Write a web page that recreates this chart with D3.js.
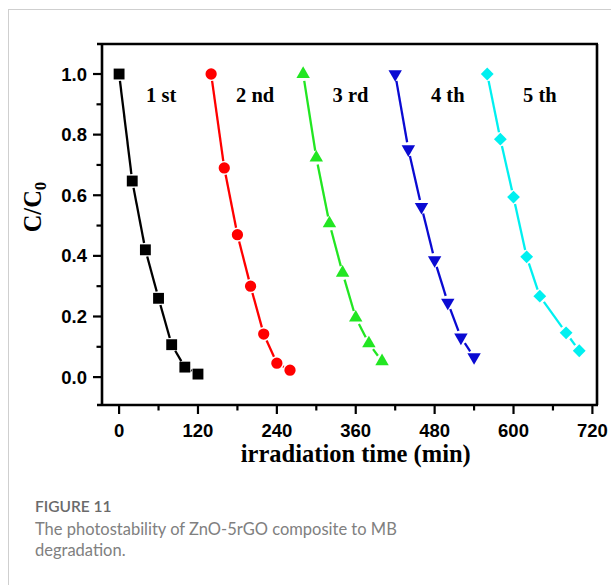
<!DOCTYPE html>
<html>
<head>
<meta charset="utf-8">
<script src="https://cdn.jsdelivr.net/npm/d3@7"></script>
<style>
  body { margin: 0; background: #fff; }
  svg { display: block; }
</style>
</head>
<body>
<script>
// irradiation time (min) per run
var time1 = [0, 20, 40, 60, 80, 100, 120];
var time2 = [140, 160, 180, 200, 220, 240, 260];
var time3 = [280, 300, 320, 340, 360, 380, 400];
var time4 = [420, 440, 460, 480, 500, 520, 540];
var time5 = [560, 580, 600, 620, 640, 680, 700];

// C/C0 per run
var ratio1 = [1.0, 0.647, 0.42, 0.26, 0.107, 0.033, 0.01];
var ratio2 = [1.0, 0.69, 0.47, 0.30, 0.142, 0.046, 0.023];
var ratio3 = [1.0, 0.724, 0.507, 0.344, 0.196, 0.111, 0.052];
var ratio4 = [1.0, 0.752, 0.562, 0.386, 0.246, 0.131, 0.066];
var ratio5 = [1.0, 0.785, 0.594, 0.397, 0.267, 0.146, 0.087];

var runNames = ["1 st", "2 nd", "3 rd", "4 th", "5 th"];
var xTicks = [0, 120, 240, 360, 480, 600, 720];
var xMinor = [60, 180, 300, 420, 540, 660];
var yTicks = [0.0, 0.2, 0.4, 0.6, 0.8, 1.0];
var yMinor = [0.1, 0.3, 0.5, 0.7, 0.9];

var colors = ["#000000", "#ff0000", "#22e622", "#0a0ad2", "#00f0f0"];
var times = [time1, time2, time3, time4, time5];
var ratios = [ratio1, ratio2, ratio3, ratio4, ratio5];

var W = 611, H = 585;
var svg = d3.select("body").append("svg")
    .attr("width", W)
    .attr("height", H);

// card outline
svg.append("rect")
    .attr("x", 8.5).attr("y", 9.5)
    .attr("width", 800).attr("height", 800)
    .attr("fill", "none")
    .attr("stroke", "#cfcfcf")
    .attr("stroke-width", 1);

var L = 102, R = 597, T = 44, B = 405;
var x = d3.scaleLinear().domain([-26, 727]).range([L, R]);
var y = d3.scaleLinear().domain([-0.092, 1.099]).range([B, T]);

var axisFont = "'Liberation Sans', Arial, sans-serif";
var serif = "'Liberation Serif', 'Times New Roman', serif";

// ticks
var ax = svg.append("g").attr("stroke", "#000").attr("stroke-width", 2.2);
ax.selectAll(".xt").data(xTicks).enter().append("line")
    .attr("x1", function(d){ return x(d); }).attr("x2", function(d){ return x(d); })
    .attr("y1", B).attr("y2", B + 9);
ax.selectAll(".xm").data(xMinor).enter().append("line")
    .attr("x1", function(d){ return x(d); }).attr("x2", function(d){ return x(d); })
    .attr("y1", B).attr("y2", B + 5.5);
ax.selectAll(".yt").data(yTicks).enter().append("line")
    .attr("y1", function(d){ return y(d); }).attr("y2", function(d){ return y(d); })
    .attr("x1", L).attr("x2", L - 9);
ax.selectAll(".ym").data(yMinor).enter().append("line")
    .attr("y1", function(d){ return y(d); }).attr("y2", function(d){ return y(d); })
    .attr("x1", L).attr("x2", L - 5.5);

// frame
var fr = svg.append("g").attr("stroke", "#000").attr("stroke-width", 2.6).attr("fill", "none");
fr.append("line").attr("x1", L - 5).attr("x2", R + 1).attr("y1", T).attr("y2", T);
fr.append("line").attr("x1", L - 5).attr("x2", R + 1).attr("y1", B).attr("y2", B);
fr.append("line").attr("x1", L).attr("x2", L).attr("y1", T).attr("y2", B);
fr.append("line").attr("x1", R).attr("x2", R).attr("y1", T).attr("y2", B);

// tick labels
svg.selectAll(".xl").data(xTicks).enter().append("text")
    .attr("x", function(d){ return x(d); })
    .attr("y", 437)
    .attr("text-anchor", "middle")
    .attr("font-family", axisFont)
    .attr("font-weight", "bold")
    .attr("font-size", 18.5)
    .text(function(d){ return d; });

svg.selectAll(".yl").data(yTicks).enter().append("text")
    .attr("x", 87)
    .attr("y", function(d){ return y(d) + 6.5; })
    .attr("text-anchor", "end")
    .attr("font-family", axisFont)
    .attr("font-weight", "bold")
    .attr("font-size", 18.5)
    .text(function(d){ return d3.format(".1f")(d); });

// axis titles
svg.append("text")
    .attr("x", (x(0) + x(720)) / 2)
    .attr("y", 462)
    .attr("text-anchor", "middle")
    .attr("font-family", serif)
    .attr("font-weight", "bold")
    .attr("font-size", 24.5)
    .text("irradiation time (min)");

var yt = svg.append("text")
    .attr("transform", "translate(41," + 207 + ") rotate(-90)")
    .attr("text-anchor", "middle")
    .attr("font-family", serif)
    .attr("font-weight", "bold")
    .attr("font-size", 24.5);
yt.append("tspan").text("C/C");
yt.append("tspan").attr("dy", 5).attr("font-size", 17).text("0");

// series: lines with gaps at markers, then markers
var gap = 7;
var symbols = [
  { type: d3.symbolSquare, size: 118, rot: 0 },
  { type: d3.symbolCircle, size: 100, rot: 0 },
  { type: d3.symbolTriangle, size: 78, rot: 0 },
  { type: d3.symbolTriangle, size: 78, rot: 180 },
  { type: d3.symbolSquare, size: 82, rot: 45 }
];

times.forEach(function(ts, i){
  var pts = ts.map(function(t, j){ return [x(t), y(ratios[i][j])]; });
  var g = svg.append("g");
  for (var j = 0; j < pts.length - 1; j++) {
    var p = pts[j], q = pts[j + 1];
    var dx = q[0] - p[0], dy = q[1] - p[1];
    var len = Math.sqrt(dx * dx + dy * dy);
    if (len <= 2 * gap) continue;
    var ux = dx / len, uy = dy / len;
    g.append("line")
      .attr("x1", p[0] + ux * gap).attr("y1", p[1] + uy * gap)
      .attr("x2", q[0] - ux * gap).attr("y2", q[1] - uy * gap)
      .attr("stroke", colors[i])
      .attr("stroke-width", 2.3);
  }
  var sym = d3.symbol().type(symbols[i].type).size(symbols[i].size);
  g.selectAll("path.m").data(pts).enter().append("path")
    .attr("transform", function(d){ return "translate(" + d[0] + "," + d[1] + ") rotate(" + symbols[i].rot + ")"; })
    .attr("d", sym)
    .attr("fill", colors[i]);
});

// run labels
var labelT = [64, 207, 352, 500, 640];
svg.selectAll(".rl").data(runNames).enter().append("text")
    .attr("x", function(d, i){ return x(labelT[i]); })
    .attr("y", y(0.908))
    .attr("text-anchor", "middle")
    .attr("font-family", serif)
    .attr("font-weight", "bold")
    .attr("font-size", 20.5)
    .text(function(d){ return d; });

// caption
var capFont = "Lato, 'Open Sans', sans-serif";
svg.append("text")
    .attr("x", 35).attr("y", 512)
    .attr("font-family", capFont)
    .attr("font-weight", 600)
    .attr("font-size", 15.5)
    .attr("fill", "#6a6a6a")
    .text("FIGURE 11");
svg.append("text")
    .attr("x", 35).attr("y", 535)
    .attr("font-family", capFont)
    .attr("font-size", 16.5)
    .attr("fill", "#808080")
    .text("The photostability of ZnO-5rGO composite to MB");
svg.append("text")
    .attr("x", 35).attr("y", 556)
    .attr("font-family", capFont)
    .attr("font-size", 16.5)
    .attr("fill", "#808080")
    .text("degradation.");
</script>
</body>
</html>
